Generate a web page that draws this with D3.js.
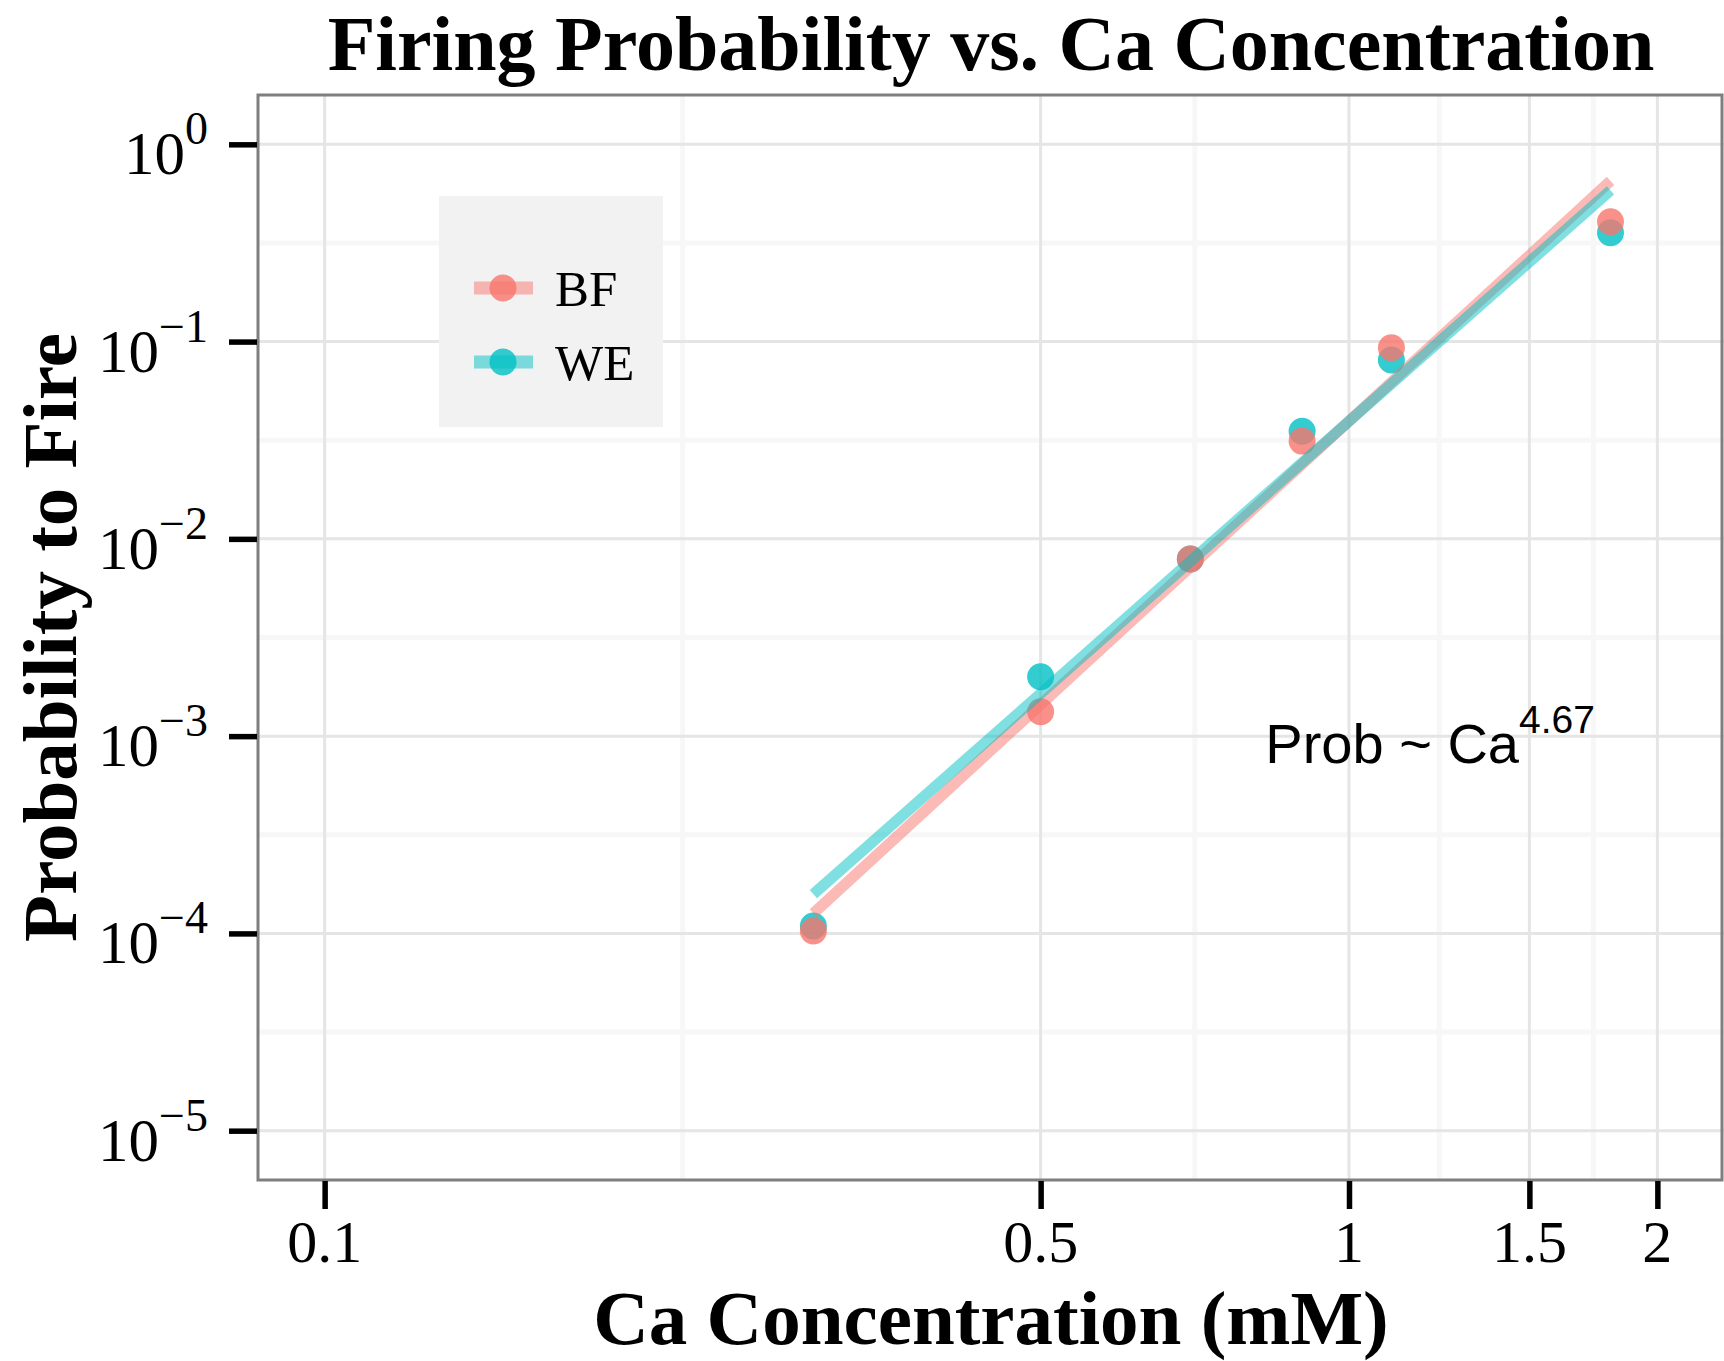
<!DOCTYPE html>
<html>
<head>
<meta charset="utf-8">
<script src="https://cdn.jsdelivr.net/npm/d3@7"></script>
<style>
  body { margin: 0; background: #fff; }
  svg { display: block; }
</style>
</head>
<body>
<svg id="chart" width="1724" height="1361"></svg>
<script>
// values
const caConc = [0.3, 0.5, 0.7, 0.9, 1.1, 1.8];
const probBF = [1.03e-4, 1.33e-3, 7.9e-3, 0.0313, 0.093, 0.405];
const probWE = [1.09e-4, 2.0e-3, 7.9e-3, 0.0351, 0.0807, 0.356];
const groups = ['BF', 'WE'];
const groupColors = ['#F8766D', '#00BFC4'];
const xTicks = [0.1, 0.5, 1, 1.5, 2];
const xTickLabels = ['0.1', '0.5', '1', '1.5', '2'];
const yTicks = [1, 1e-1, 1e-2, 1e-3, 1e-4, 1e-5];
const yTickExps = ['0', '−1', '−2', '−3', '−4', '−5'];
const fitText = 'Prob ~ Ca';
const fitExp = '4.67';
const fitAt = [1.2, 1e-3];

const serif = '"Liberation Serif", "Times New Roman", serif';
const sans = '"Liberation Sans", Arial, sans-serif';

const svg = d3.select('#chart');
const panel = { left: 258, right: 1724, top: 95, bottom: 1180 };

// ggplot style 5% expansion in log space
function expandLog(lo, hi, f) {
  const a = Math.log10(lo), b = Math.log10(hi), d = (b - a) * f;
  return [10 ** (a - d), 10 ** (b + d)];
}

const x = d3.scaleLog().domain(expandLog(0.1, 2, 0.05)).range([panel.left, panel.right]);
const y = d3.scaleLog().domain(expandLog(1e-5, 1, 0.05)).range([panel.bottom, panel.top]);

// minor breaks halfway (in log space) between majors
const xMinor = d3.pairs(xTicks).map(([a, b]) => Math.sqrt(a * b));
const yMinor = d3.pairs(yTicks).map(([a, b]) => Math.sqrt(a * b));

const grid = svg.append('g');
grid.selectAll('.xminor').data(xMinor).join('line')
  .attr('x1', d => x(d)).attr('x2', d => x(d))
  .attr('y1', panel.top).attr('y2', panel.bottom)
  .attr('stroke', '#f7f7f7').attr('stroke-width', 5);
grid.selectAll('.yminor').data(yMinor).join('line')
  .attr('y1', d => y(d)).attr('y2', d => y(d))
  .attr('x1', panel.left).attr('x2', panel.right)
  .attr('stroke', '#f7f7f7').attr('stroke-width', 5);
grid.selectAll('.xmajor').data(xTicks).join('line')
  .attr('x1', d => x(d)).attr('x2', d => x(d))
  .attr('y1', panel.top).attr('y2', panel.bottom)
  .attr('stroke', '#e5e5e5').attr('stroke-width', 3);
grid.selectAll('.ymajor').data(yTicks).join('line')
  .attr('y1', d => y(d)).attr('y2', d => y(d))
  .attr('x1', panel.left).attr('x2', panel.right)
  .attr('stroke', '#e5e5e5').attr('stroke-width', 3);

// series rows
const series = groups.map((g, i) => ({
  name: g,
  color: groupColors[i],
  values: caConc.map((c, j) => ({ x: c, y: (i === 0 ? probBF : probWE)[j] }))
}));

// linear fit in log-log space (like geom_smooth(method = lm))
function logFit(values) {
  const lx = values.map(d => Math.log10(d.x)), ly = values.map(d => Math.log10(d.y));
  const mx = d3.mean(lx), my = d3.mean(ly);
  const slope = d3.sum(lx, (v, k) => (v - mx) * (ly[k] - my)) / d3.sum(lx, v => (v - mx) ** 2);
  const [x0, x1] = d3.extent(values, d => d.x);
  const f = v => 10 ** (my + slope * (Math.log10(v) - mx));
  return [{ x: x0, y: f(x0) }, { x: x1, y: f(x1) }];
}

// points: WE first, BF on top
const pointOrder = [series[1], series[0]];
pointOrder.forEach(s => {
  svg.append('g').selectAll('circle').data(s.values).join('circle')
    .attr('cx', d => x(d.x)).attr('cy', d => y(d.y))
    .attr('r', 13.5)
    .attr('fill', s.color).attr('fill-opacity', 0.8);
});

const line = d3.line().x(d => x(d.x)).y(d => y(d.y));
series.forEach(s => {
  svg.append('path')
    .datum(logFit(s.values))
    .attr('d', line)
    .attr('fill', 'none')
    .attr('stroke', s.color).attr('stroke-opacity', 0.5)
    .attr('stroke-width', 11);
});

// annotation
const ann = svg.append('text')
  .attr('x', x(fitAt[0])).attr('y', y(fitAt[1]) + 27)
  .attr('text-anchor', 'middle')
  .attr('font-family', sans).attr('font-size', 56);
ann.append('tspan').text(fitText);
ann.append('tspan').attr('dy', -30).attr('font-size', 39).text(fitExp);

// legend
const legend = svg.append('g');
legend.append('rect')
  .attr('x', 439).attr('y', 196).attr('width', 224).attr('height', 231)
  .attr('fill', '#f2f2f2');
series.forEach((s, i) => {
  const ky = 288 + i * 74;
  legend.append('line')
    .attr('x1', 474).attr('x2', 533).attr('y1', ky).attr('y2', ky)
    .attr('stroke', s.color).attr('stroke-opacity', 0.5).attr('stroke-width', 13);
  legend.append('circle')
    .attr('cx', 503).attr('cy', ky).attr('r', 13.5)
    .attr('fill', s.color).attr('fill-opacity', 0.8);
  legend.append('text')
    .attr('x', 555).attr('y', ky + 18)
    .attr('font-family', serif).attr('font-size', 51)
    .text(s.name);
});

// panel border
svg.append('rect')
  .attr('x', panel.left).attr('y', panel.top)
  .attr('width', panel.right - panel.left - 2).attr('height', panel.bottom - panel.top)
  .attr('fill', 'none').attr('stroke', '#7f7f7f').attr('stroke-width', 3);

// axes ticks
const styleTicks = g => {
  g.select('.domain').remove();
  g.selectAll('line').attr('stroke', '#000').attr('stroke-width', 5.5);
};
svg.append('g')
  .attr('transform', `translate(0,${panel.bottom + 1})`)
  .call(d3.axisBottom(x).tickValues(xTicks).tickSize(28).tickSizeOuter(0).tickFormat(''))
  .call(styleTicks);
svg.append('g')
  .attr('transform', `translate(${panel.left - 1},0)`)
  .call(d3.axisLeft(y).tickValues(yTicks).tickSize(28).tickSizeOuter(0).tickFormat(''))
  .call(styleTicks);

// tick labels
svg.append('g').selectAll('text').data(xTicks).join('text')
  .attr('x', d => x(d)).attr('y', 1262)
  .attr('text-anchor', 'middle')
  .attr('font-family', serif).attr('font-size', 60)
  .text((d, i) => xTickLabels[i]);

const yl = svg.append('g').selectAll('text').data(yTicks).join('text')
  .attr('x', 208).attr('y', d => y(d) + 30)
  .attr('text-anchor', 'end')
  .attr('font-family', serif).attr('font-size', 61);
yl.append('tspan').text('10');
yl.append('tspan').attr('dy', -30).attr('font-size', 46).text((d, i) => yTickExps[i]);

// titles
const midX = (panel.left + panel.right) / 2;
svg.append('text')
  .attr('x', midX).attr('y', 70)
  .attr('text-anchor', 'middle')
  .attr('font-family', serif).attr('font-weight', 'bold').attr('font-size', 78)
  .text('Firing Probability vs. Ca Concentration');
svg.append('text')
  .attr('x', midX).attr('y', 1344)
  .attr('text-anchor', 'middle')
  .attr('font-family', serif).attr('font-weight', 'bold').attr('font-size', 77)
  .text('Ca Concentration (mM)');
svg.append('text')
  .attr('transform', `translate(76,${(panel.top + panel.bottom) / 2}) rotate(-90)`)
  .attr('text-anchor', 'middle')
  .attr('font-family', serif).attr('font-weight', 'bold').attr('font-size', 77)
  .text('Probability to Fire');
</script>
</body>
</html>
